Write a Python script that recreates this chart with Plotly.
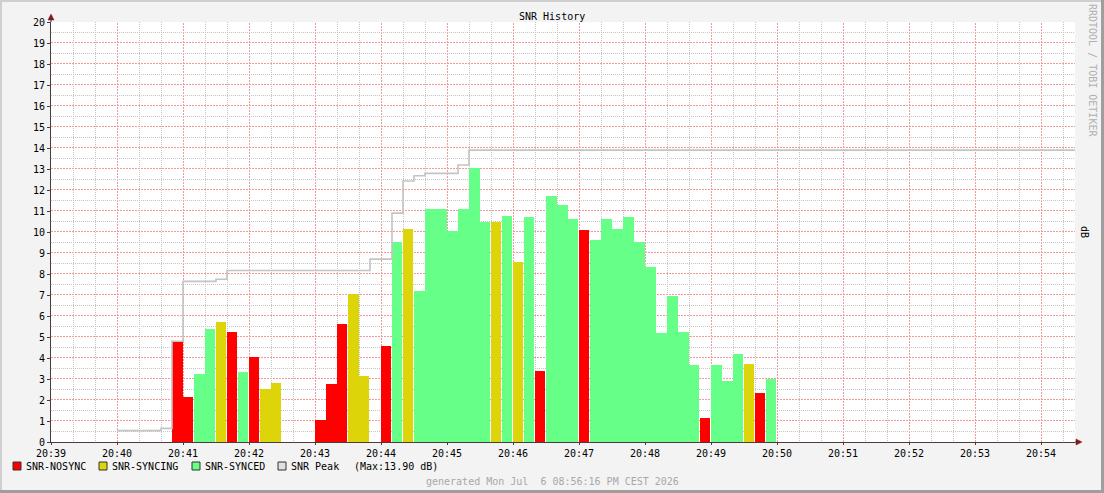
import plotly.graph_objects as go

DAY = "2026-07-06 "

# SNR samples, 10 s steps (start time of each step), state and average value in dB
snr_times = [
    "20:40:50", "20:41:00", "20:41:10", "20:41:20", "20:41:30", "20:41:40", "20:41:50",
    "20:42:00", "20:42:10", "20:42:20",
    "20:43:00", "20:43:10", "20:43:20", "20:43:30", "20:43:40",
    "20:44:00", "20:44:10", "20:44:20", "20:44:30", "20:44:40", "20:44:50",
    "20:45:00", "20:45:10", "20:45:20", "20:45:30", "20:45:40", "20:45:50",
    "20:46:00", "20:46:10", "20:46:20", "20:46:30", "20:46:40", "20:46:50",
    "20:47:00", "20:47:10", "20:47:20", "20:47:30", "20:47:40", "20:47:50",
    "20:48:00", "20:48:10", "20:48:20", "20:48:30", "20:48:40", "20:48:50",
    "20:49:00", "20:49:10", "20:49:20", "20:49:30", "20:49:40", "20:49:50",
]
snr_states = [
    "N", "N", "S", "S", "Y", "N", "S",
    "N", "Y", "Y",
    "N", "N", "N", "Y", "Y",
    "N", "S", "Y", "S", "S", "S",
    "S", "S", "S", "S", "Y", "S",
    "Y", "S", "N", "S", "S", "S",
    "N", "S", "S", "S", "S", "S",
    "S", "S", "S", "S", "S", "N",
    "S", "S", "S", "Y", "N", "S",
]
snr_values = [
    4.78, 2.16, 3.26, 5.38, 5.73, 5.25, 3.33,
    4.05, 2.52, 2.81,
    1.05, 2.76, 5.62, 7.05, 3.14,
    4.57, 9.52, 10.14, 7.19, 11.10, 11.10,
    10.05, 11.10, 13.05, 10.48, 10.48, 10.76,
    8.57, 10.71, 3.38, 11.71, 11.29, 10.62,
    10.10, 9.62, 10.62, 10.14, 10.71, 9.52,
    8.33, 5.19, 6.95, 5.24, 3.67, 1.14,
    3.67, 2.92, 4.19, 3.71, 2.33, 3.00,
]

# running peak (step line)
peak_times = ["20:40:00", "20:40:40", "20:40:50", "20:41:00", "20:41:30", "20:41:40",
              "20:43:50", "20:44:10", "20:44:20", "20:44:30", "20:44:40", "20:45:10",
              "20:45:20", "20:56:10"]
peak_values = [0.54, 0.65, 4.80, 7.65, 7.75, 8.17,
               8.71, 10.90, 12.43, 12.68, 12.79, 13.19,
               13.90, 13.90]

# axis ticks
minute_ticks = ["20:39", "20:40", "20:41", "20:42", "20:43", "20:44", "20:45", "20:46",
                "20:47", "20:48", "20:49", "20:50", "20:51", "20:52", "20:53", "20:54"]
db_ticks = list(range(0, 21))

states = [
    ("N", "SNR-NOSYNC", "#ff0000"),
    ("Y", "SNR-SYNCING", "#ddd40a"),
    ("S", "SNR-SYNCED", "#66ff88"),
]

W, H = 1104, 493
X0, X1, Y0, Y1 = 51, 1075, 22, 442   # plot area in pixels
FONT = "DejaVu Sans Mono"
AXIS = "#4b3a3a"
ARROW = "#7f1a1a"
GRID_MAJOR = "#f49a9a"
GRID_MINOR = "#c4c4c4"


def px(x):
    return (x - X0) / (X1 - X0)


def py(y):
    return (Y1 - y) / (Y1 - Y0)


def secs(t):
    h, m, s = t.split(":")
    return int(h) * 3600 + int(m) * 60 + float(s)


def stamp(seconds):
    hh, rem = divmod(seconds, 3600)
    mm, ss = divmod(rem, 60)
    return f"{DAY}{int(hh):02d}:{int(mm):02d}:{ss:06.3f}"


fig = go.Figure()

# bars: a 1px white gap where a run of one colour ends
for key, name, color in states:
    xs, ys, ws = [], [], []
    for i, (t, st, v) in enumerate(zip(snr_times, snr_states, snr_values)):
        if st != key:
            continue
        nxt_same = (i + 1 < len(snr_times)
                    and secs(snr_times[i + 1]) - secs(t) == 10
                    and snr_states[i + 1] == st)
        xs.append(DAY + t)
        ys.append(v)
        ws.append(10000 if nxt_same else 9100)
    fig.add_trace(go.Bar(
        x=xs, y=ys, width=ws, offset=0,
        marker=dict(color=color, line=dict(width=0)),
        name=name, showlegend=False,
    ))

fig.add_trace(go.Scatter(
    x=[DAY + t for t in peak_times], y=peak_values,
    mode="lines", line=dict(color="#c4c4c4", width=1.6, shape="hv"),
    name="SNR Peak", showlegend=False,
))

# minor grid only between the major lines so the grey never covers the red
minor_x = [DAY + m + s for m in minute_ticks for s in (":20", ":40")]
minor_y = [v + 0.5 for v in db_ticks[:-1]]

fig.update_xaxes(
    type="date",
    range=[DAY + "20:39:00", DAY + "20:54:30.9"],
    tickvals=[DAY + t for t in minute_ticks], ticktext=minute_ticks,
    showgrid=False,
    minor=dict(tickmode="array", tickvals=minor_x, showgrid=True,
               gridcolor=GRID_MINOR, griddash="1px,1px", ticks=""),
    showline=True, linecolor=AXIS, linewidth=1,
    ticks="outside", ticklen=2, tickcolor=AXIS,
    zeroline=False, tickfont=dict(family=FONT, size=10, color="#000000"),
)
fig.update_yaxes(
    range=[0, 20], tickvals=db_ticks,
    showgrid=False,
    minor=dict(tickmode="array", tickvals=minor_y, showgrid=True,
               gridcolor=GRID_MINOR, griddash="1px,1px", ticks=""),
    showline=True, linecolor=AXIS, linewidth=1,
    ticks="outside", ticklen=3, tickcolor=AXIS,
    zeroline=False, tickfont=dict(family=FONT, size=10, color="#000000"),
)

# red major grid as shapes, nudged half a pixel so each line sits on one pixel column/row
half_px_s = 0.5 / 66 * 60
half_px_db = 0.5 / 21
shapes = []
for t in minute_ticks[1:]:
    xs = stamp(secs(t + ":00") + half_px_s)
    shapes.append(dict(type="line", xref="x", yref="paper", x0=xs, x1=xs,
                       y0=0, y1=1, layer="between",
                       line=dict(color=GRID_MAJOR, width=1, dash="2px,1px")))
for v in db_ticks[1:]:
    shapes.append(dict(type="line", xref="paper", yref="y", x0=0, x1=1,
                       y0=v + half_px_db, y1=v + half_px_db, layer="between",
                       line=dict(color=GRID_MAJOR, width=1, dash="2px,1px")))

frame = [
    # frame shading
    dict(type="rect", x0=px(0), x1=px(W), y0=py(0), y1=py(2), fillcolor="#cfcfcf", line_width=0),
    dict(type="rect", x0=px(0), x1=px(2), y0=py(0), y1=py(H), fillcolor="#cfcfcf", line_width=0),
    dict(type="rect", x0=px(W - 3), x1=px(W), y0=py(0), y1=py(H), fillcolor="#9e9e9e", line_width=0),
    dict(type="rect", x0=px(0), x1=px(W), y0=py(H - 3), y1=py(H), fillcolor="#9e9e9e", line_width=0),
    # axis extensions and arrows
    dict(type="line", x0=px(X1), x1=px(1078), y0=py(Y1), y1=py(Y1), line=dict(color=AXIS, width=1)),
    dict(type="line", x0=px(X0), x1=px(X0), y0=py(Y0), y1=py(18), line=dict(color=AXIS, width=1)),
    dict(type="path", path=f"M {px(1076)} {py(439)} L {px(1082)} {py(442)} L {px(1076)} {py(445)} Z",
         fillcolor=ARROW, line=dict(color=ARROW, width=0.5)),
    dict(type="path", path=f"M {px(48)} {py(20)} L {px(51)} {py(14)} L {px(54)} {py(20)} Z",
         fillcolor=ARROW, line=dict(color=ARROW, width=0.5)),
]
for s in frame:
    s["xref"] = "paper"
    s["yref"] = "paper"
    s["layer"] = "above"
shapes += frame

annotations = [
    dict(text="SNR History", x=px(552), y=py(16), font=dict(size=10, color="#000000")),
    dict(text="RRDTOOL / TOBI OETIKER", x=px(1093), y=py(70), textangle=90,
         font=dict(size=10, color="#b0b0b0")),
    dict(text="dB", x=px(1085), y=py(232), textangle=90, font=dict(size=10, color="#000000")),
    dict(text="generated Mon Jul\u00a0\u00a06 08:56:16 PM CEST 2026", x=px(552), y=py(481),
         font=dict(size=10, color="#a8a8a8")),
]

# hand-drawn legend row
legend_items = [
    (13, "#ff0000", 24, "SNR-NOSYNC"),
    (99, "#ddd40a", 110, "SNR-SYNCING"),
    (192, "#66ff88", 203, "SNR-SYNCED"),
    (278, "#e0e0e0", 289, "SNR Peak"),
]
for bx, col, tx, label in legend_items:
    shapes.append(dict(type="rect", xref="paper", yref="paper",
                       x0=px(bx), x1=px(bx + 8), y0=py(462), y1=py(470),
                       fillcolor=col, line=dict(color="#333333", width=1)))
    annotations.append(dict(text=label, x=px(tx), y=py(466), xanchor="left",
                            font=dict(size=10, color="#000000")))
annotations.append(dict(text="(Max:13.90 dB)", x=px(352), y=py(466), xanchor="left",
                        font=dict(size=10, color="#000000")))

for a in annotations:
    a.setdefault("xref", "paper")
    a.setdefault("yref", "paper")
    a.setdefault("showarrow", False)
    a.setdefault("xanchor", "center")
    a.setdefault("yanchor", "middle")
    a["font"]["family"] = FONT

fig.update_layout(
    width=W, height=H, autosize=False,
    margin=dict(l=X0, r=W - X1, t=Y0, b=H - Y1, pad=0),
    paper_bgcolor="#f3f3f3", plot_bgcolor="#ffffff",
    barmode="overlay", bargap=0,
    showlegend=False,
    shapes=shapes, annotations=annotations,
    font=dict(family=FONT, size=10, color="#000000"),
)

# page body margin off so the figure sits at the window's top-left corner
fig.write_html("out.html", config={"displayModeBar": False},
               post_script="document.body.style.margin='0';")
